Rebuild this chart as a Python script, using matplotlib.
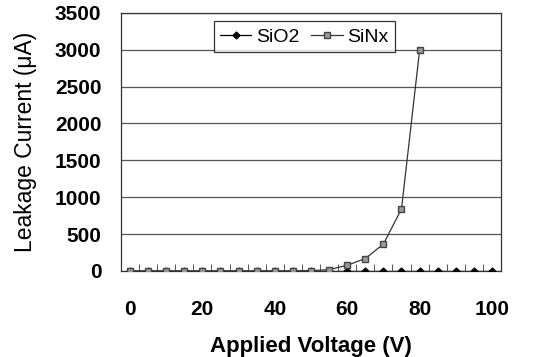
import matplotlib
matplotlib.use('Agg')
import matplotlib.pyplot as plt
import numpy as np

plt.rcParams['font.family'] = ['Liberation Sans', 'DejaVu Sans']

# Dados
voltage = [0, 5, 10, 15, 20, 25, 30, 35, 40, 45, 50, 55, 60, 65, 70, 75, 80, 85, 90, 95, 100]
sio2 = [0, 0, 0, 0, 0, 0, 0, 0, 0, 0, 0, 0, 0, 0, 0, 0, 0, 0, 0, 0, 0]
voltage_sinx = [0, 5, 10, 15, 20, 25, 30, 35, 40, 45, 50, 55, 60, 65, 70, 75, 80]
sinx = [2, 2, 2, 2, 2, 2, 2, 2, 2, 2, 5, 18, 77, 168, 364, 841, 2990]

fig = plt.figure(figsize=(5.47, 3.57), dpi=100)
ax = fig.add_axes([0.221, 0.241, 0.695, 0.723])

ax.plot(voltage, sio2, color='black', linewidth=0.9, marker='D', markersize=3.5,
        markerfacecolor='black', markeredgecolor='black', label='SiO2', zorder=3)
ax.plot(voltage_sinx, sinx, color='#333333', linewidth=0.9, marker='s', markersize=4.5,
        markerfacecolor='#999999', markeredgecolor='#444444', label='SiNx', zorder=4)

ax.set_xlim(-2.5, 102.5)
ax.set_ylim(0, 3500)
ax.set_xticks([0, 20, 40, 60, 80, 100])
ax.set_yticks(np.arange(0, 3501, 500))
ax.set_xticks(np.arange(2.5, 100, 5), minor=True)
ax.tick_params(axis='x', which='major', length=0, pad=21, labelsize=15)
ax.tick_params(axis='x', which='minor', direction='in', length=5, width=0.7, color='#555555')
ax.tick_params(axis='y', length=0, pad=14, labelsize=15)
for lab in ax.get_xticklabels() + ax.get_yticklabels():
    lab.set_fontweight('bold')

ax.grid(axis='y', color='#555555', linewidth=0.9)
ax.set_axisbelow(True)
for side in ['left', 'right', 'top', 'bottom']:
    ax.spines[side].set_color('#333333')
    ax.spines[side].set_linewidth(0.9)

ax.set_xlabel('Applied Voltage (V)', fontsize=16, fontweight='bold', labelpad=12)
ax.set_ylabel('Leakage Current (μA)', fontsize=16.5, labelpad=13)

leg = ax.legend(loc='upper center', bbox_to_anchor=(0.483, 0.99), ncol=2,
                fontsize=14, frameon=True, fancybox=False, borderpad=0.35,
                handlelength=1.6, columnspacing=0.6, handletextpad=0.25,
                borderaxespad=0.3)
leg.get_frame().set_edgecolor('black')
leg.get_frame().set_linewidth(0.9)

fig.savefig('out.png', dpi=100)
